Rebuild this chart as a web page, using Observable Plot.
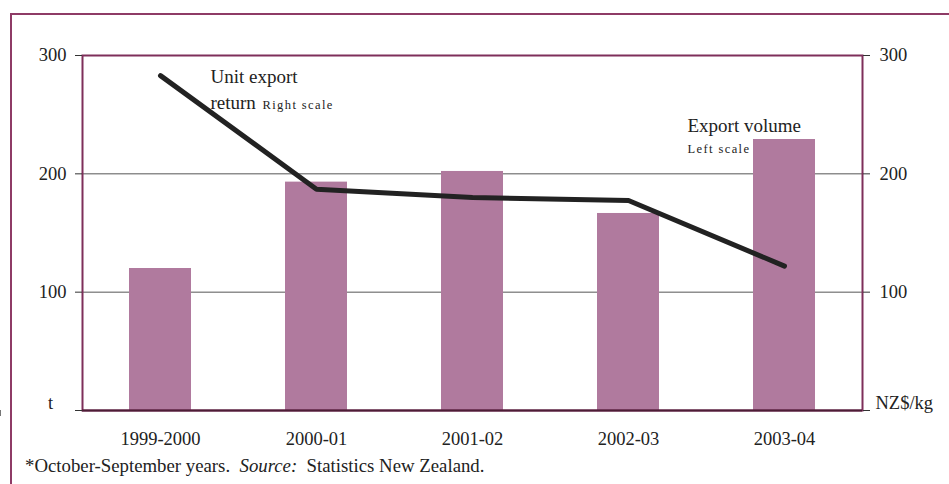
<!DOCTYPE html>
<html>
<head>
<meta charset="utf-8">
<script src="https://cdn.jsdelivr.net/npm/d3@7"></script>
<script src="https://cdn.jsdelivr.net/npm/@observablehq/plot@0.6"></script>
<style>
  html, body { margin: 0; padding: 0; background: #fff; }
  #wrap { position: relative; width: 949px; height: 484px; overflow: hidden; }
  #border { position: absolute; left: 10px; top: 13px; width: 960px; height: 500px;
            border-top: 2px solid #8e3b66; border-left: 2px solid #8e3b66; }
  #chart { position: absolute; left: 0; top: 0; }
  #foot { position: absolute; left: 25px; top: 457px; font: 18.8px 'Liberation Serif', 'Times New Roman', serif;
          line-height: 1; color: #222; white-space: pre; }
</style>
</head>
<body>
<div id="wrap"><div id="border"></div><div id="chart"></div><div id="foot"></div></div>
<script>
const years = ["1999-2000", "2000-01", "2001-02", "2002-03", "2003-04"];
const exportVolume = [120, 193, 202, 166.5, 229];   // t, left scale
const unitReturn = [283, 187, 180, 177.5, 122];     // NZ$/kg, right scale
const yTicks = [0, 100, 200, 300];
const gridValues = [100, 200];
const leftUnit = "t";
const rightUnit = "NZ$/kg";
const footParts = ["*October-September years.  ", "Source:", "  Statistics New Zealand."];
const lineLabel = ["Unit export", "return"];
const lineScaleNote = "Right scale";
const barLabel = "Export volume";
const barScaleNote = "Left scale";
const lineLabelYear = "1999-2000";
const lineLabelValues = [277, 255];
const barLabelYear = "2003-04";
const barLabelValues = [235.5, 217.5];

const bars = years.map((y, i) => ({year: y, v: exportVolume[i]}));
const line = years.map((y, i) => ({year: y, v: unitReturn[i]}));

const font = "'Liberation Serif', 'Times New Roman', serif";

// band-boundary ticks on the x axis, positioned from the band scale
function boundaryTicks(index, scales, values, dimensions) {
  const x = scales.x;
  const bw = x.bandwidth;
  const step = x(years[1]) - x(years[0]);
  const off = (step - bw) / 2;
  const edges = years.map(d => x(d) - off);
  edges.push(x(years[years.length - 1]) + bw + off);
  const yb = dimensions.height - dimensions.marginBottom;
  const g = d3.create("svg:g");
  for (const e of edges) {
    g.append("line").attr("x1", e).attr("x2", e).attr("y1", yb).attr("y2", yb + 6)
      .attr("stroke", "#777").attr("stroke-width", 1.5);
  }
  return g.node();
}

const bigText = {textAnchor: "start", lineAnchor: "bottom", fontSize: 19, fill: "#222"};
const smallText = {textAnchor: "start", lineAnchor: "bottom", fontSize: 12.5, fill: "#222"};

const chart = Plot.plot({
  width: 949,
  height: 484,
  marginLeft: 82,
  marginRight: 87,
  marginTop: 55,
  marginBottom: 74,
  style: {fontFamily: font, fontSize: "18.5px", color: "#222", background: "transparent"},
  x: {domain: years, paddingInner: 0.6, paddingOuter: 0.3, axis: null, label: null},
  y: {domain: [0, 300], axis: null, label: null},
  marks: [
    Plot.ruleY(gridValues, {stroke: "#555", strokeWidth: 1}),
    Plot.barY(bars, {x: "year", y: "v", fill: "#b07a9e"}),
    Plot.line(line, {x: "year", y: "v", stroke: "#222", strokeWidth: 5, strokeLinejoin: "round", strokeLinecap: "round"}),
    Plot.frame({stroke: "#7e2f5a", strokeWidth: 2}),
    Plot.ruleY([0], {stroke: "#4d1d36", strokeWidth: 2}),
    Plot.axisY({ticks: yTicks, anchor: "left", tickSize: 7, tickPadding: 9, stroke: "#333", label: null,
      tickFormat: d => d === 0 ? "" : d, fontSize: 18.5}),
    Plot.axisY({ticks: yTicks, anchor: "right", tickSize: 7, tickPadding: 10, stroke: "#333", label: null,
      tickFormat: d => d === 0 ? "" : d, fontSize: 18.5}),
    Plot.axisX({anchor: "bottom", tickSize: 0, tickPadding: 21, fontSize: 18.5, label: null}),
    boundaryTicks,
    Plot.text(lineLabel, {x: () => lineLabelYear, y: (d, i) => lineLabelValues[i], text: d => d, dx: 50, ...bigText}),
    Plot.text([lineScaleNote], {x: () => lineLabelYear, y: () => lineLabelValues[1], text: d => d, dx: 102, ...smallText}),
    Plot.text([barLabel], {x: () => barLabelYear, y: () => barLabelValues[0], text: d => d, dx: -97, ...bigText}),
    Plot.text([barScaleNote], {x: () => barLabelYear, y: () => barLabelValues[1], text: d => d, dx: -97, ...smallText}),
    Plot.text([leftUnit], {frameAnchor: "bottom-left", dx: -32, dy: -2, textAnchor: "middle", lineAnchor: "bottom", fontSize: 18.5, fill: "#222"}),
    Plot.text([rightUnit], {frameAnchor: "bottom-right", dx: 13, dy: -2, textAnchor: "start", lineAnchor: "bottom", fontSize: 18.5, fill: "#222"})
  ]
});
document.getElementById("chart").appendChild(chart);

d3.select(chart).selectAll("text")
  .filter(function() { return this.textContent === lineScaleNote || this.textContent === barScaleNote; })
  .attr("letter-spacing", "1.4px");

const foot = d3.select("#foot");
footParts.forEach((t, i) => foot.append("span").style("font-style", i === 1 ? "italic" : "normal").text(t));
</script>
</body>
</html>
